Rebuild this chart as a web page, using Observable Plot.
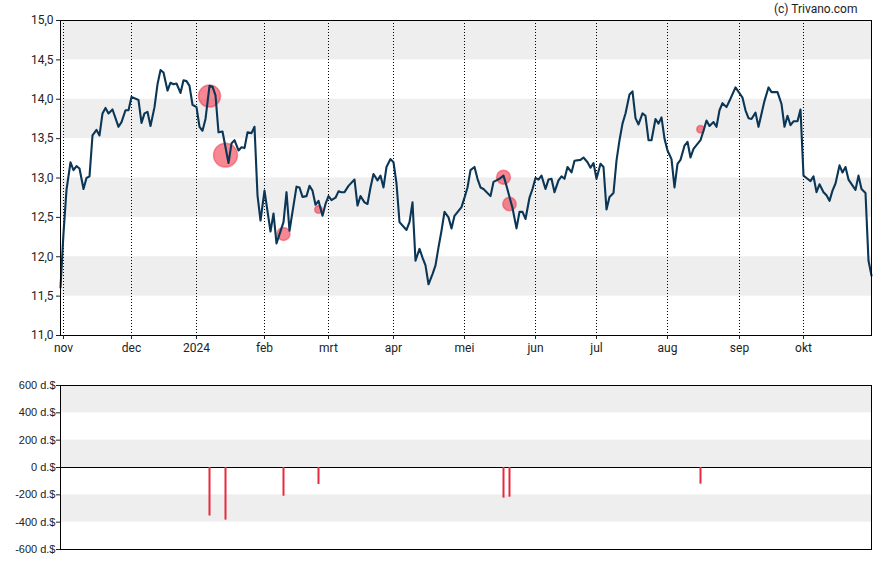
<!DOCTYPE html>
<html>
<head>
<meta charset="utf-8">
<script src="https://cdn.jsdelivr.net/npm/d3@7"></script>
<script src="https://cdn.jsdelivr.net/npm/@observablehq/plot@0.6"></script>
<style>
  html, body { margin: 0; padding: 0; background: #fff; }
  #chart svg { display: block; }
</style>
</head>
<body>
<div id="chart"></div>
<script>
// Trading-day index (0 = 31 Oct 2023) and closing price
const tradingDay = [0,1,2,3,4,5,6,7,8,9,10,11,12,13,14,15,16,18,19,20,21,22,24,25,26,27,28,29,30,31,32,33,34,35,36,37,38,39,40,41,42,43,44,45,46,47,48,49,50,52,53,54,55,56,57,58,59,60,61,62,63,65,66,67,69,70,71,73,74,75,76,77,78,79,80,81,82,83,84,85,86,87,88,89,91,92,93,94,95,96,97,98,99,100,101,102,103,104,105,107,108,109,110,111,112,113,114,115,116,117,118,119,120,121,122,124,125,126,127,128,129,130,131,133,134,135,136,137,138,140,141,142,143,144,145,146,147,148,149,150,151,152,153,154,155,156,157,158,159,161,162,163,164,165,166,167,168,169,170,171,172,173,174,175,176,177,178,179,180,181,182,183,184,185,186,187,188,189,190,191,192,193,194,195,196,198,199,200,201,202,203,204,205,206,207,209,211,212,213,214,215,216,218,219,220,222,223,224,225,226,227,228,229,230,231,232,233,234,235,236,237,238,239,240,241,242,243,244,246,247,248,249,250,251];
const closePrice = [11.61,12.30,12.85,13.20,13.10,13.15,13.12,12.86,13.00,13.02,13.54,13.61,13.54,13.82,13.89,13.82,13.87,13.65,13.71,13.86,13.86,14.03,13.99,13.70,13.82,13.84,13.66,13.90,14.19,14.37,14.34,14.11,14.21,14.19,14.20,14.08,14.24,14.23,14.17,13.93,13.90,13.65,13.60,13.75,14.17,14.16,14.05,13.58,13.59,13.19,13.44,13.48,13.35,13.39,13.38,13.58,13.57,13.65,12.78,12.46,12.84,12.32,12.55,12.17,12.44,12.82,12.33,12.89,12.88,12.76,12.77,12.90,12.84,12.66,12.71,12.52,12.67,12.77,12.72,12.75,12.83,12.82,12.82,12.90,12.98,12.65,12.77,12.69,12.67,12.88,13.05,12.97,13.03,12.88,13.14,13.24,13.20,12.93,12.44,12.34,12.44,12.69,11.95,12.10,11.99,11.89,11.65,11.78,11.89,12.12,12.33,12.57,12.50,12.36,12.52,12.63,12.75,12.88,13.10,13.14,12.99,12.88,12.86,12.77,12.95,12.97,12.99,13.03,12.90,12.62,12.36,12.57,12.57,12.48,12.75,12.86,13.00,12.98,13.03,12.86,12.98,12.99,12.82,12.97,13.02,12.99,13.14,13.07,13.22,13.23,13.26,13.20,13.13,13.19,12.99,13.18,13.14,12.60,12.76,12.81,13.22,13.48,13.69,13.82,14.06,14.10,13.76,13.68,13.82,13.79,13.48,13.48,13.75,13.69,13.77,13.50,13.35,13.24,12.88,13.18,13.23,13.41,13.46,13.26,13.37,13.48,13.60,13.73,13.66,13.71,13.65,13.86,13.95,13.90,13.98,14.15,14.02,13.86,13.76,13.75,13.83,13.65,13.98,14.15,14.09,14.09,13.94,13.65,13.79,13.67,13.72,13.72,13.87,13.03,13.00,12.96,13.02,12.82,12.92,12.82,12.78,12.71,12.84,12.93,13.16,13.07,13.14,12.98,12.85,13.03,12.86,12.81,11.95,11.76];

// Month ticks (trading-day index of first trading day of each month) and labels
const monthTickIdx = [1,22,42,63,83,103,125,147,166,188,210,230];
const monthLabels = ["nov","dec","2024","feb","mrt","apr","mei","jun","jul","aug","sep","okt"];
const priceTicks = [11,11.5,12,12.5,13,13.5,14,14.5,15];
const priceBandStarts = [11.5,12.5,13.5,14.5];

// Insider transactions: trading day, price, value (thousand $)
const insiderDay = [46,51,69,80,137,139,198];
const insiderPrice = [14.04,13.29,12.29,12.60,13.01,12.67,13.62];
const insiderValue = [-355,-385,-210,-124,-224,-217,-122];
const valueTicks = [-600,-400,-200,0,200,400,600];
const valueBandStarts = [-400,0,400];

const rows = tradingDay.map((d, i) => ({day: d, close: closePrice[i]}));
const trades = insiderDay.map((d, i) => ({day: d, price: insiderPrice[i], value: insiderValue[i]}));
const bandsTop = priceBandStarts.map(v => ({lo: v, hi: v + 0.5}));
const bandsBottom = valueBandStarts.map(v => ({lo: v, hi: v + 200}));

const priceChart = Plot.plot({
  width: 888, height: 360,
  marginLeft: 60, marginRight: 17, marginTop: 20, marginBottom: 25,
  x: {domain: [0, 251], axis: null, round: true},
  y: {domain: [11, 15], axis: null},
  r: {type: "linear", domain: [0, 400], range: [0, 12.4]},
  style: {fontFamily: "Roboto, sans-serif", fontSize: "12px", color: "#222", background: "#fff"},
  marks: [
    Plot.rect(bandsTop, {y1: "lo", y2: "hi", fill: "#eeeeee"}),
    Plot.ruleX(monthTickIdx, {stroke: "#000", strokeDasharray: "1,2", strokeWidth: 1}),
    Plot.dot(trades, {x: "day", y: "price", r: d => Math.abs(d.value), fill: "#f0384c", fillOpacity: 0.6, stroke: "#f0384c", strokeOpacity: 0.5}),
    Plot.line(rows, {x: "day", y: "close", stroke: "#0b3656", strokeWidth: 2.1}),
    Plot.frame({stroke: "#000"}),
    Plot.axisY(priceTicks, {tickSize: 4, tickPadding: 3, label: null, fontSize: 12, tickFormat: d => d.toFixed(1).replace(".", ",")}),
    Plot.axisX(monthTickIdx, {tickSize: 4, tickPadding: 4, label: null, fontSize: 12, tickFormat: d => monthLabels[monthTickIdx.indexOf(d)]}),
    Plot.text(["(c) Trivano.com"], {frameAnchor: "top-right", textAnchor: "end", lineAnchor: "middle", dx: -14, dy: -11, fontSize: 12, fill: "#222"})
  ]
});

const valueChart = Plot.plot({
  width: 888, height: 205,
  marginLeft: 60, marginRight: 17, marginTop: 25, marginBottom: 16,
  x: {domain: [0, 251], axis: null, round: true},
  y: {domain: [-600, 600], axis: null},
  style: {fontFamily: "'Liberation Sans', Arial, sans-serif", fontSize: "11px", color: "#222", background: "#fff"},
  marks: [
    Plot.rect(bandsBottom, {y1: "lo", y2: "hi", fill: "#eeeeee"}),
    Plot.ruleY([0], {stroke: "#000", strokeWidth: 1.2}),
    Plot.ruleX(trades, {x: "day", y1: 0, y2: "value", stroke: "#e8283c", strokeWidth: 2}),
    Plot.frame({stroke: "#000"}),
    Plot.axisY(valueTicks, {tickSize: 4, tickPadding: 1, label: null, fontSize: 11, tickFormat: d => `${d} d.$`})
  ]
});

document.getElementById("chart").append(priceChart, valueChart);
</script>
</body>
</html>
